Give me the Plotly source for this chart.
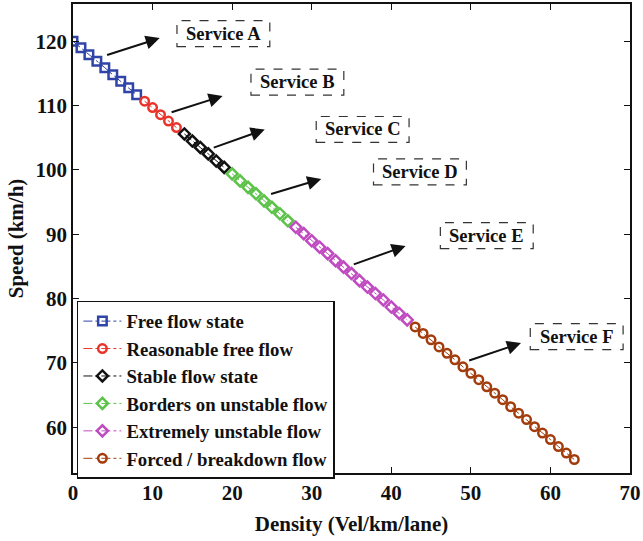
import plotly.graph_objects as go

# ---- data ----
free_k = [0, 1, 2, 3, 4, 5, 6, 7, 8]
free_v = [120.0, 119.0, 117.9, 116.9, 115.9, 114.8, 113.8, 112.8, 111.7]
reas_k = [9, 10, 11, 12, 13]
reas_v = [110.7, 109.7, 108.6, 107.6, 106.6]
stab_k = [14, 15, 16, 17, 18, 19]
stab_v = [105.6, 104.5, 103.5, 102.5, 101.4, 100.4]
bord_k = [20, 21, 22, 23, 24, 25, 26, 27]
bord_v = [99.4, 98.3, 97.3, 96.3, 95.2, 94.2, 93.2, 92.1]
extr_k = [28, 29, 30, 31, 32, 33, 34, 35, 36, 37, 38, 39, 40, 41, 42]
extr_v = [91.1, 90.1, 89.0, 88.0, 87.0, 85.9, 84.9, 83.9, 82.8, 81.8, 80.8, 79.8, 78.7, 77.7, 76.7]
forc_k = [43, 44, 45, 46, 47, 48, 49, 50, 51, 52, 53, 54, 55, 56, 57, 58, 59, 60, 61, 62, 63]
forc_v = [75.6, 74.6, 73.6, 72.5, 71.5, 70.5, 69.4, 68.4, 67.4, 66.3, 65.3, 64.3, 63.2, 62.2,
          61.2, 60.1, 59.1, 58.1, 57.0, 56.0, 55.0]

series_names = ["Free flow state", "Reasonable free flow", "Stable flow state",
                "Borders on unstable flow", "Extremely unstable flow", "Forced / breakdown flow"]
series_colors = ["#2f44a6", "#e8342b", "#111111", "#5cc24a", "#c04bc0", "#a33c0c"]
series_symbols = ["square-open", "circle-open", "diamond-open", "diamond-open", "diamond-open", "circle-open"]

service_labels = ["Service A", "Service B", "Service C", "Service D", "Service E", "Service F"]
label_x = [18.9, 28.2, 36.4, 43.6, 52.0, 63.3]
label_y = [121.2, 113.65, 106.3, 99.7, 89.8, 74.1]
arrow_tail_x = [4.1, 12.2, 17.5, 24.7, 35.1, 49.6]
arrow_tail_y = [117.8, 108.9, 103.4, 96.2, 85.25, 70.3]
arrow_head_x = [10.9, 18.8, 24.1, 31.2, 41.8, 56.3]
arrow_head_y = [120.5, 111.5, 106.3, 98.6, 88.2, 73.1]

x_ticks = [0, 10, 20, 30, 40, 50, 60, 70]
y_ticks = [60, 70, 80, 90, 100, 110, 120]

FONT = "Liberation Serif, Times New Roman, Times, serif"

fig = go.Figure()
all_k = [free_k, reas_k, stab_k, bord_k, extr_k, forc_k]
all_v = [free_v, reas_v, stab_v, bord_v, extr_v, forc_v]
for k, v, name, col, sym in zip(all_k, all_v, series_names, series_colors, series_symbols):
    fig.add_trace(go.Scatter(
        x=k, y=v, name="<b>" + name + "</b>", mode="lines+markers",
        line=dict(color=col, width=1, dash="dashdot"),
        marker=dict(symbol=sym, size=8.5, color=col, line=dict(color=col, width=2.5)),
    ))

# dashed label boxes + text
bw, bh = 46.5 / 7.97, 13.0 / 6.46
for lab, lx, ly in zip(service_labels, label_x, label_y):
    fig.add_shape(type="rect", xref="x", yref="y",
                  x0=lx - bw, x1=lx + bw, y0=ly - bh, y1=ly + bh,
                  line=dict(color="#333333", width=1.2, dash="dash"), fillcolor="rgba(0,0,0,0)")
    fig.add_annotation(x=lx, y=ly, xref="x", yref="y", text="<b>" + lab + "</b>",
                       showarrow=False, font=dict(family=FONT, size=18.5, color="#111111"))

for tx, ty, hx, hy in zip(arrow_tail_x, arrow_tail_y, arrow_head_x, arrow_head_y):
    fig.add_annotation(x=hx, y=hy, ax=tx, ay=ty, xref="x", yref="y", axref="x", ayref="y",
                       text="", showarrow=True, arrowhead=2, arrowsize=1.4, arrowwidth=2,
                       arrowcolor="#111111")

fig.update_layout(
    width=643, height=541,
    margin=dict(l=73, r=12, t=2, b=68),
    paper_bgcolor="white", plot_bgcolor="white",
    font=dict(family=FONT, size=21, color="#111111"),
    legend=dict(x=0.007, y=0.367, xanchor="left", yanchor="top",
                bgcolor="white", bordercolor="#111111", borderwidth=1.5,
                font=dict(family=FONT, size=18.8, color="#111111"),
                itemwidth=38, tracegroupgap=0),
    showlegend=True,
)
fig.update_xaxes(range=[0, 70], tickvals=x_ticks, ticktext=["<b>%d</b>" % t for t in x_ticks],
                 showline=True, linecolor="#111111", linewidth=1.5, mirror="allticks",
                 ticks="inside", ticklen=6, tickcolor="#111111", showgrid=False, zeroline=False,
                 tickfont=dict(family=FONT, size=21),
                 title=dict(text="<b>Density (Vel/km/lane)</b>", font=dict(family=FONT, size=21), standoff=12))
fig.update_yaxes(range=[52.9, 125.8], tickvals=y_ticks, ticktext=["<b>%d</b>" % t for t in y_ticks],
                 showline=True, linecolor="#111111", linewidth=1.5, mirror="allticks",
                 ticks="inside", ticklen=6, tickcolor="#111111", showgrid=False, zeroline=False,
                 tickfont=dict(family=FONT, size=21),
                 title=dict(text="<b>Speed (km/h)</b>", font=dict(family=FONT, size=21), standoff=6))

fig.write_html("out.html")
